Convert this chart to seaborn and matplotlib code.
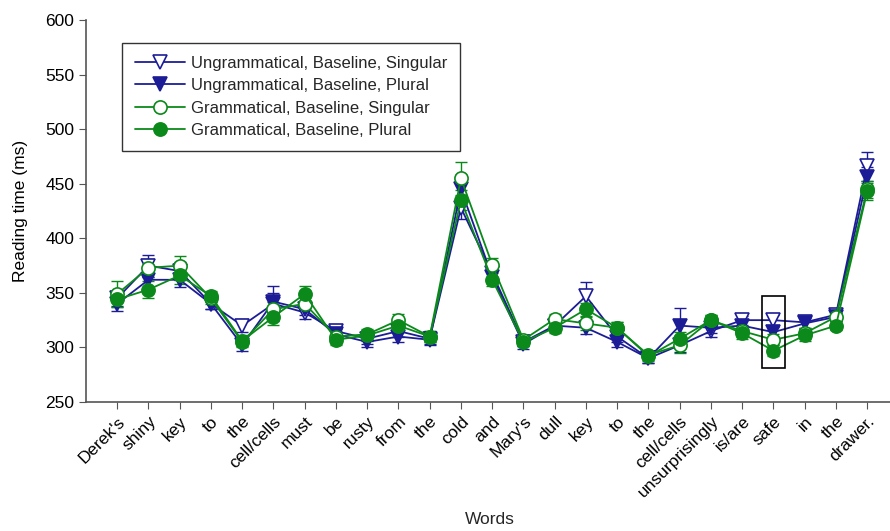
import numpy as np
import pandas as pd
import seaborn as sns
import matplotlib.pyplot as plt
from matplotlib.patches import Rectangle

# Words on the x axis
words = ["Derek's", "shiny", "key", "to", "the", "cell/cells", "must", "be", "rusty",
         "from", "the", "cold", "and", "Mary's", "dull", "key", "to", "the",
         "cell/cells", "unsurprisingly", "is/are", "safe", "in", "the", "drawer."]

# Mean reading times (ms)
ungram_sing = [345, 375, 370, 340, 320, 340, 332, 315, 308, 315, 308, 428, 368,
               305, 320, 347, 310, 290, 302, 315, 325, 325, 323, 330, 466]
ungram_plur = [340, 362, 362, 340, 302, 342, 335, 312, 305, 310, 307, 445, 365,
               303, 320, 318, 305, 290, 320, 318, 320, 314, 322, 328, 456]
gram_sing = [349, 373, 375, 345, 305, 335, 340, 310, 312, 325, 310, 455, 376,
             307, 326, 322, 318, 293, 302, 325, 315, 307, 313, 328, 445]
gram_plur = [344, 353, 366, 347, 306, 328, 349, 307, 311, 320, 310, 435, 362,
             305, 318, 335, 318, 292, 308, 325, 313, 297, 311, 320, 443]

# Standard errors (ms)
ungram_sing_se = [7, 10, 8, 5, 6, 16, 6, 5, 5, 5, 5, 10, 6,
                  4, 5, 13, 5, 4, 6, 5, 4, 5, 5, 4, 13]
ungram_plur_se = [7, 8, 7, 5, 5, 8, 5, 5, 5, 5, 5, 9, 6,
                  4, 5, 6, 5, 4, 16, 5, 5, 5, 5, 4, 9]
gram_sing_se = [12, 8, 9, 5, 5, 7, 6, 5, 5, 6, 5, 15, 6,
                4, 5, 6, 5, 4, 7, 5, 5, 5, 5, 4, 8]
gram_plur_se = [7, 8, 8, 5, 5, 7, 7, 5, 5, 5, 5, 9, 6,
                4, 5, 6, 5, 4, 6, 5, 5, 5, 5, 4, 8]

blue = '#1c1c96'
green = '#0b8a1b'

series = [
    ('Ungrammatical, Baseline, Singular', ungram_sing, ungram_sing_se, blue, 'v', 'white'),
    ('Ungrammatical, Baseline, Plural', ungram_plur, ungram_plur_se, blue, 'v', blue),
    ('Grammatical, Baseline, Singular', gram_sing, gram_sing_se, green, 'o', 'white'),
    ('Grammatical, Baseline, Plural', gram_plur, gram_plur_se, green, 'o', green),
]

sns.set_style('ticks')
plt.rcParams['font.family'] = ['Liberation Sans', 'DejaVu Sans']

fig = plt.figure(figsize=(8.9, 5.31), dpi=100)
ax = fig.add_axes([0.0966, 0.243, 0.9034, 0.719])

pos = np.arange(len(words))
for name, vals, se, col, mk, fc in series:
    df = pd.DataFrame({'pos': pos, 'rt': vals})
    ax.errorbar(pos, vals, yerr=se, fmt='none', ecolor=col, elinewidth=1,
                capsize=4, capthick=1, zorder=2)
    sns.lineplot(data=df, x='pos', y='rt', ax=ax, color=col, marker=mk,
                 markersize=9.5, markerfacecolor=fc, markeredgecolor=col,
                 markeredgewidth=1.2, linewidth=1.3, label=name, zorder=3)

# box around "safe"
ax.add_patch(Rectangle((20.62, 281), 0.76, 66, fill=False, edgecolor='black',
                       linewidth=1.2, zorder=4))

ax.set_xlim(-1, 24.73)
ax.set_ylim(250, 600)
ax.set_yticks(np.arange(250, 601, 50))
ax.set_xticks(pos)
ax.set_xticklabels(words, rotation=45, ha='right', rotation_mode='anchor', fontsize=12.5)
ax.tick_params(axis='y', labelsize=12.5, length=5, color='#555555', labelcolor='black')
ax.tick_params(axis='x', length=5, color='#555555', labelcolor='black')
ax.set_xlabel('Words', fontsize=12.5)
ax.xaxis.set_label_coords(0.502, -0.288)
ax.set_ylabel('Reading time (ms)', fontsize=12.5, color='black', labelpad=12)
for s in ['top', 'right']:
    ax.spines[s].set_visible(False)
for s in ['left', 'bottom']:
    ax.spines[s].set_color('#555555')
    ax.spines[s].set_linewidth(1.2)

leg = ax.legend(loc='upper left', bbox_to_anchor=(0.045, 0.94), borderaxespad=0,
                fontsize=12, frameon=True, fancybox=False, handlelength=3,
                labelspacing=0.45, borderpad=0.75, handletextpad=0.4)
leg.get_frame().set_edgecolor('black')
leg.get_frame().set_linewidth(1)

fig.savefig('out.png', dpi=100)
